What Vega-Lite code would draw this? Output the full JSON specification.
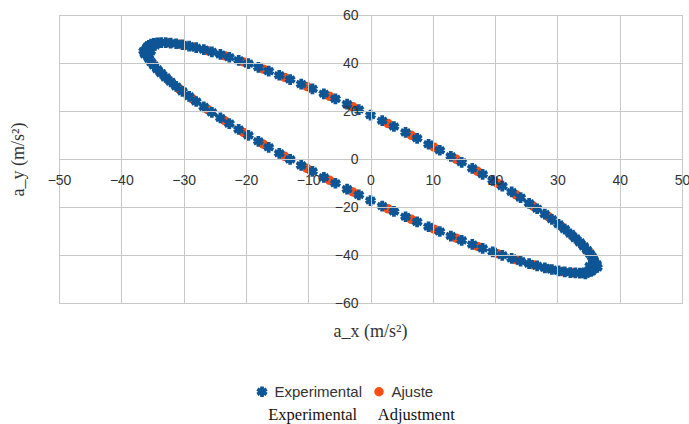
{
  "$schema": "https://vega.github.io/schema/vega-lite/v6.json",
  "width": 623,
  "height": 288,
  "autosize": {"type": "none"},
  "padding": {"left": 59, "top": 15, "right": 7, "bottom": 121},
  "background": "white",
  "config": {
    "view": {"stroke": "#c8c8c8", "strokeWidth": 1},
    "legend": {
      "orient": "none",
      "legendX": 195.5,
      "legendY": 369,
      "direction": "horizontal",
      "padding": 0,
      "labelFont": "Liberation Sans",
      "labelFontSize": 15,
      "labelColor": "#333333",
      "labelOffset": 5,
      "columnPadding": 9
    }
  },
  "title": {
    "text": "Experimental\u00a0\u00a0\u00a0\u00a0\u00a0Adjustment",
    "orient": "bottom",
    "anchor": "middle",
    "font": "Liberation Serif",
    "fontSize": 16.5,
    "fontWeight": "normal",
    "color": "#111111",
    "offset": 7,
    "dx": -9
  },
  "data": {
    "values": [
      {"serie": "Ajuste", "ax": 35.99, "ay": -43.61}, {"serie": "Ajuste", "ax": -35.99, "ay": 45.55}, {"serie": "Ajuste", "ax": -35.99, "ay": 44.61}, {"serie": "Ajuste", "ax": 35.99, "ay": -44.55},
      {"serie": "Ajuste", "ax": 35.69, "ay": -41.40}, {"serie": "Ajuste", "ax": -35.69, "ay": 47.04}, {"serie": "Ajuste", "ax": -35.69, "ay": 42.40}, {"serie": "Ajuste", "ax": 35.69, "ay": -46.04},
      {"serie": "Ajuste", "ax": 35.01, "ay": -38.71}, {"serie": "Ajuste", "ax": -35.01, "ay": 48.03}, {"serie": "Ajuste", "ax": -35.01, "ay": 39.71}, {"serie": "Ajuste", "ax": 35.01, "ay": -47.03},
      {"serie": "Ajuste", "ax": 33.94, "ay": -35.60}, {"serie": "Ajuste", "ax": -33.94, "ay": 48.48}, {"serie": "Ajuste", "ax": -33.94, "ay": 36.60}, {"serie": "Ajuste", "ax": 33.94, "ay": -47.48},
      {"serie": "Ajuste", "ax": 32.49, "ay": -32.10}, {"serie": "Ajuste", "ax": -32.49, "ay": 48.42}, {"serie": "Ajuste", "ax": -32.49, "ay": 33.10}, {"serie": "Ajuste", "ax": 32.49, "ay": -47.42},
      {"serie": "Ajuste", "ax": 30.70, "ay": -28.23}, {"serie": "Ajuste", "ax": -30.70, "ay": 47.83}, {"serie": "Ajuste", "ax": -30.70, "ay": 29.23}, {"serie": "Ajuste", "ax": 30.70, "ay": -46.83},
      {"serie": "Ajuste", "ax": 28.56, "ay": -24.04}, {"serie": "Ajuste", "ax": -28.56, "ay": 46.72}, {"serie": "Ajuste", "ax": -28.56, "ay": 25.04}, {"serie": "Ajuste", "ax": 28.56, "ay": -45.72},
      {"serie": "Ajuste", "ax": 26.11, "ay": -19.60}, {"serie": "Ajuste", "ax": -26.11, "ay": 45.10}, {"serie": "Ajuste", "ax": -26.11, "ay": 20.60}, {"serie": "Ajuste", "ax": 26.11, "ay": -44.10},
      {"serie": "Ajuste", "ax": 23.38, "ay": -14.93}, {"serie": "Ajuste", "ax": -23.38, "ay": 43.01}, {"serie": "Ajuste", "ax": -23.38, "ay": 15.93}, {"serie": "Ajuste", "ax": 23.38, "ay": -42.01},
      {"serie": "Ajuste", "ax": 20.39, "ay": -10.09}, {"serie": "Ajuste", "ax": -20.39, "ay": 40.43}, {"serie": "Ajuste", "ax": -20.39, "ay": 11.09}, {"serie": "Ajuste", "ax": 20.39, "ay": -39.43},
      {"serie": "Ajuste", "ax": 17.18, "ay": -5.14}, {"serie": "Ajuste", "ax": -17.18, "ay": 37.42}, {"serie": "Ajuste", "ax": -17.18, "ay": 6.14}, {"serie": "Ajuste", "ax": 17.18, "ay": -36.42},
      {"serie": "Ajuste", "ax": 13.78, "ay": -0.13}, {"serie": "Ajuste", "ax": -13.78, "ay": 34.01}, {"serie": "Ajuste", "ax": -13.78, "ay": 1.13}, {"serie": "Ajuste", "ax": 13.78, "ay": -33.01},
      {"serie": "Ajuste", "ax": 10.22, "ay": 4.90}, {"serie": "Ajuste", "ax": -10.22, "ay": 30.24}, {"serie": "Ajuste", "ax": -10.22, "ay": -3.90}, {"serie": "Ajuste", "ax": 10.22, "ay": -29.24},
      {"serie": "Ajuste", "ax": 6.56, "ay": 9.87}, {"serie": "Ajuste", "ax": -6.56, "ay": 26.13}, {"serie": "Ajuste", "ax": -6.56, "ay": -8.87}, {"serie": "Ajuste", "ax": 6.56, "ay": -25.13},
      {"serie": "Ajuste", "ax": 2.82, "ay": 14.75}, {"serie": "Ajuste", "ax": -2.82, "ay": 21.75}, {"serie": "Ajuste", "ax": -2.82, "ay": -13.75}, {"serie": "Ajuste", "ax": 2.82, "ay": -20.75},
      {"serie": "Experimental", "ax": 36.0, "ay": -44.1}, {"serie": "Experimental", "ax": -36.0, "ay": 45.1},
      {"serie": "Experimental", "ax": 35.95, "ay": -43.11}, {"serie": "Experimental", "ax": -35.95, "ay": 45.97}, {"serie": "Experimental", "ax": -36.15, "ay": 44.11}, {"serie": "Experimental", "ax": 36.2, "ay": -44.97},
      {"serie": "Experimental", "ax": 35.80, "ay": -42.00}, {"serie": "Experimental", "ax": -35.80, "ay": 46.72}, {"serie": "Experimental", "ax": -35.60, "ay": 43.00}, {"serie": "Experimental", "ax": 35.80, "ay": -45.72},
      {"serie": "Experimental", "ax": 35.56, "ay": -40.77}, {"serie": "Experimental", "ax": -35.56, "ay": 47.33}, {"serie": "Experimental", "ax": -35.56, "ay": 41.77}, {"serie": "Experimental", "ax": 35.56, "ay": -46.33},
      {"serie": "Experimental", "ax": 35.21, "ay": -39.43}, {"serie": "Experimental", "ax": -35.21, "ay": 47.83}, {"serie": "Experimental", "ax": -35.21, "ay": 40.43}, {"serie": "Experimental", "ax": 35.41, "ay": -46.83},
      {"serie": "Experimental", "ax": 34.77, "ay": -37.97}, {"serie": "Experimental", "ax": -34.77, "ay": 48.19}, {"serie": "Experimental", "ax": -34.77, "ay": 38.97}, {"serie": "Experimental", "ax": 34.77, "ay": -47.19},
      {"serie": "Experimental", "ax": 34.24, "ay": -36.42}, {"serie": "Experimental", "ax": -34.24, "ay": 48.42}, {"serie": "Experimental", "ax": -34.24, "ay": 37.42}, {"serie": "Experimental", "ax": 34.24, "ay": -47.42},
      {"serie": "Experimental", "ax": 33.61, "ay": -34.76}, {"serie": "Experimental", "ax": -33.61, "ay": 48.52}, {"serie": "Experimental", "ax": -33.61, "ay": 35.76}, {"serie": "Experimental", "ax": 33.61, "ay": -47.52},
      {"serie": "Experimental", "ax": 32.89, "ay": -33.00}, {"serie": "Experimental", "ax": -32.89, "ay": 48.48}, {"serie": "Experimental", "ax": -32.89, "ay": 34.00}, {"serie": "Experimental", "ax": 32.89, "ay": -47.48},
      {"serie": "Experimental", "ax": 32.08, "ay": -31.16}, {"serie": "Experimental", "ax": -32.08, "ay": 48.32}, {"serie": "Experimental", "ax": -32.08, "ay": 32.16}, {"serie": "Experimental", "ax": 32.08, "ay": -47.32},
      {"serie": "Experimental", "ax": 31.18, "ay": -29.22}, {"serie": "Experimental", "ax": -31.18, "ay": 48.02}, {"serie": "Experimental", "ax": -31.18, "ay": 30.22}, {"serie": "Experimental", "ax": 31.18, "ay": -47.02},
      {"serie": "Experimental", "ax": 30.19, "ay": -27.20}, {"serie": "Experimental", "ax": -30.19, "ay": 47.60}, {"serie": "Experimental", "ax": -30.19, "ay": 28.20}, {"serie": "Experimental", "ax": 30.19, "ay": -46.60},
      {"serie": "Experimental", "ax": 29.12, "ay": -25.12}, {"serie": "Experimental", "ax": -29.12, "ay": 47.04}, {"serie": "Experimental", "ax": -29.12, "ay": 26.12}, {"serie": "Experimental", "ax": 29.12, "ay": -46.04},
      {"serie": "Experimental", "ax": 27.98, "ay": -22.96}, {"serie": "Experimental", "ax": -27.98, "ay": 46.36}, {"serie": "Experimental", "ax": -27.98, "ay": 23.96}, {"serie": "Experimental", "ax": 27.98, "ay": -45.36},
      {"serie": "Experimental", "ax": 26.75, "ay": -20.73}, {"serie": "Experimental", "ax": -26.75, "ay": 45.55}, {"serie": "Experimental", "ax": -26.75, "ay": 21.73}, {"serie": "Experimental", "ax": 26.75, "ay": -44.55},
      {"serie": "Experimental", "ax": 25.46, "ay": -18.45}, {"serie": "Experimental", "ax": -25.46, "ay": 44.63}, {"serie": "Experimental", "ax": -25.46, "ay": 19.45}, {"serie": "Experimental", "ax": 25.46, "ay": -43.63},
      {"serie": "Experimental", "ax": 24.09, "ay": -16.11}, {"serie": "Experimental", "ax": -24.09, "ay": 43.57}, {"serie": "Experimental", "ax": -24.09, "ay": 17.11}, {"serie": "Experimental", "ax": 24.09, "ay": -42.57},
      {"serie": "Experimental", "ax": 22.66, "ay": -13.74}, {"serie": "Experimental", "ax": -22.66, "ay": 42.40}, {"serie": "Experimental", "ax": -22.66, "ay": 14.74}, {"serie": "Experimental", "ax": 22.66, "ay": -41.40},
      {"serie": "Experimental", "ax": 21.16, "ay": -11.32}, {"serie": "Experimental", "ax": -21.16, "ay": 41.12}, {"serie": "Experimental", "ax": -21.16, "ay": 12.32}, {"serie": "Experimental", "ax": 21.16, "ay": -40.12},
      {"serie": "Experimental", "ax": 19.61, "ay": -8.86}, {"serie": "Experimental", "ax": -19.61, "ay": 39.72}, {"serie": "Experimental", "ax": -19.61, "ay": 9.86}, {"serie": "Experimental", "ax": 19.61, "ay": -38.72},
      {"serie": "Experimental", "ax": 18.00, "ay": -6.38}, {"serie": "Experimental", "ax": -18.00, "ay": 38.22}, {"serie": "Experimental", "ax": -18.00, "ay": 7.38}, {"serie": "Experimental", "ax": 18.00, "ay": -37.22},
      {"serie": "Experimental", "ax": 16.34, "ay": -3.89}, {"serie": "Experimental", "ax": -16.34, "ay": 36.61}, {"serie": "Experimental", "ax": -16.34, "ay": 4.89}, {"serie": "Experimental", "ax": 16.34, "ay": -35.61},
      {"serie": "Experimental", "ax": 14.64, "ay": -1.38}, {"serie": "Experimental", "ax": -14.64, "ay": 34.90}, {"serie": "Experimental", "ax": -14.64, "ay": 2.38}, {"serie": "Experimental", "ax": 14.64, "ay": -33.90},
      {"serie": "Experimental", "ax": 12.90, "ay": 1.14}, {"serie": "Experimental", "ax": -12.90, "ay": 33.10}, {"serie": "Experimental", "ax": -12.90, "ay": -0.14}, {"serie": "Experimental", "ax": 12.90, "ay": -32.10},
      {"serie": "Experimental", "ax": 11.12, "ay": 3.65}, {"serie": "Experimental", "ax": -11.12, "ay": 31.21}, {"serie": "Experimental", "ax": -11.12, "ay": -2.65}, {"serie": "Experimental", "ax": 11.12, "ay": -30.21},
      {"serie": "Experimental", "ax": 9.32, "ay": 6.15}, {"serie": "Experimental", "ax": -9.32, "ay": 29.23}, {"serie": "Experimental", "ax": -9.32, "ay": -5.15}, {"serie": "Experimental", "ax": 9.32, "ay": -28.23},
      {"serie": "Experimental", "ax": 7.48, "ay": 8.64}, {"serie": "Experimental", "ax": -7.48, "ay": 27.18}, {"serie": "Experimental", "ax": -7.48, "ay": -7.64}, {"serie": "Experimental", "ax": 7.48, "ay": -26.18},
      {"serie": "Experimental", "ax": 5.63, "ay": 11.10}, {"serie": "Experimental", "ax": -5.63, "ay": 25.06}, {"serie": "Experimental", "ax": -5.63, "ay": -10.10}, {"serie": "Experimental", "ax": 5.63, "ay": -24.06},
      {"serie": "Experimental", "ax": 3.76, "ay": 13.54}, {"serie": "Experimental", "ax": -3.76, "ay": 22.86}, {"serie": "Experimental", "ax": -3.76, "ay": -12.54}, {"serie": "Experimental", "ax": 3.76, "ay": -21.86},
      {"serie": "Experimental", "ax": 1.88, "ay": 15.95}, {"serie": "Experimental", "ax": -1.88, "ay": 20.61}, {"serie": "Experimental", "ax": -1.88, "ay": -14.95}, {"serie": "Experimental", "ax": 1.88, "ay": -19.61},
      {"serie": "Experimental", "ax": 0.0, "ay": 18.3}, {"serie": "Experimental", "ax": 0.0, "ay": -17.3},
      {"serie": "Experimental", "ax": -36.4, "ay": 45.0}, {"serie": "Experimental", "ax": -35.6, "ay": 46.3}, {"serie": "Experimental", "ax": -36.2, "ay": 43.6}, {"serie": "Experimental", "ax": -35.3, "ay": 44.8}, {"serie": "Experimental", "ax": -34.6, "ay": 47.3},
      {"serie": "Experimental", "ax": 36.4, "ay": -45.2}, {"serie": "Experimental", "ax": 35.5, "ay": -46.4}, {"serie": "Experimental", "ax": 36.3, "ay": -43.9}, {"serie": "Experimental", "ax": 35.2, "ay": -44.6}, {"serie": "Experimental", "ax": 34.5, "ay": -47.9}
    ]
  },
  "mark": {"type": "point", "filled": true, "opacity": 1, "strokeWidth": 0},
  "encoding": {
    "x": {
      "field": "ax",
      "type": "quantitative",
      "scale": {"domain": [-50, 50], "nice": false, "zero": false},
      "axis": {
        "values": [-50, -40, -30, -20, -10, 0, 10, 20, 30, 40, 50],
        "offset": -144,
        "domain": false,
        "ticks": false,
        "tickSize": 0,
        "grid": true,
        "gridColor": "#c8c8c8",
        "gridWidth": 1,
        "labelFont": "Liberation Sans",
        "labelFontSize": 14,
        "labelColor": "#333333",
        "labelPadding": 21,
        "labelBaseline": "middle",
        "labelFlush": false,
        "labelOverlap": false,
        "title": "a_x (m/s²)",
        "titleFont": "Liberation Serif",
        "titleFontSize": 18,
        "titleFontWeight": "normal",
        "titleColor": "#333333",
        "titleX": 311,
        "titleY": 172,
        "titleBaseline": "middle",
        "zindex": 1
      }
    },
    "y": {
      "field": "ay",
      "type": "quantitative",
      "scale": {"domain": [-60, 60], "nice": false, "zero": false},
      "axis": {
        "values": [-60, -40, -20, 0, 20, 40, 60],
        "offset": -311.5,
        "domain": false,
        "ticks": false,
        "tickSize": 0,
        "grid": true,
        "gridColor": "#c8c8c8",
        "gridWidth": 1,
        "labelFont": "Liberation Sans",
        "labelFontSize": 14,
        "labelColor": "#333333",
        "labelPadding": 12.5,
        "labelFlush": false,
        "labelOverlap": false,
        "title": "a_y (m/s²)",
        "titleFont": "Liberation Serif",
        "titleFontSize": 18,
        "titleFontWeight": "normal",
        "titleColor": "#333333",
        "titleX": -352.5,
        "titleY": 144,
        "titleBaseline": "middle",
        "zindex": 1
      }
    },
    "color": {
      "field": "serie",
      "type": "nominal",
      "scale": {"domain": ["Experimental", "Ajuste"], "range": ["#0d5595", "#ff4d12"]},
      "legend": {"title": null}
    },
    "shape": {
      "field": "serie",
      "type": "nominal",
      "scale": {"domain": ["Experimental", "Ajuste"], "range": ["M-0.35,-1L0.35,-1L0.35,1L-0.35,1ZM0.691,-0.803L1.041,-0.197L-0.691,0.803L-1.041,0.197ZM-1.041,-0.197L-0.691,-0.803L1.041,0.197L0.691,0.803Z", "circle"]},
      "legend": {"title": null}
    },
    "size": {
      "field": "serie",
      "type": "nominal",
      "scale": {"domain": ["Experimental", "Ajuste"], "range": [115, 90]},
      "legend": {"title": null}
    }
  }
}
